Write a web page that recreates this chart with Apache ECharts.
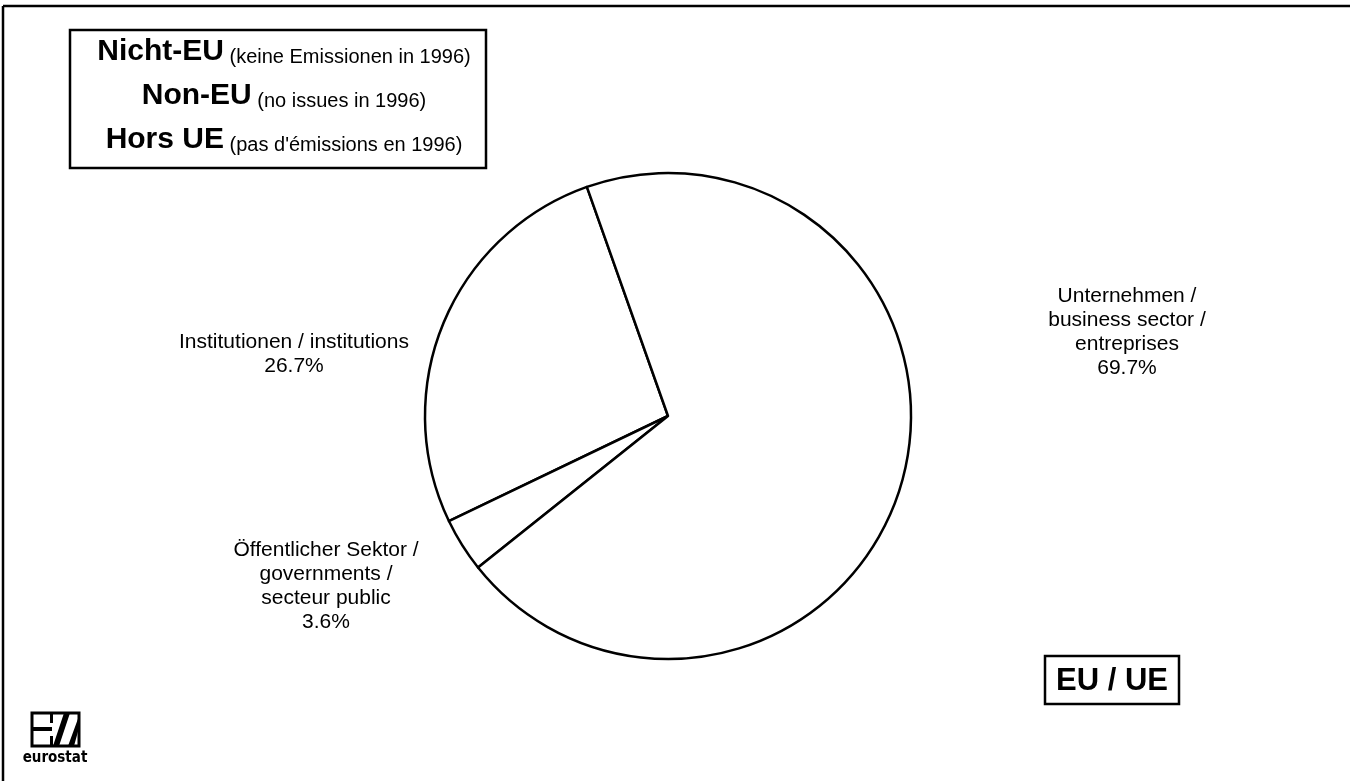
<!DOCTYPE html>
<html>
<head>
<meta charset="utf-8">
<script src="https://cdn.jsdelivr.net/npm/echarts@6/dist/echarts.min.js"></script>
<style>
  html, body { margin: 0; padding: 0; background: #fff; }
  #chart { width: 1350px; height: 781px; }
</style>
</head>
<body>
<div id="chart"></div>
<script>
// shares of issues by type of issuer, EU
const sectorNames = [
  'Institutionen / institutions',
  'Öffentlicher Sektor /\ngovernments /\nsecteur public',
  'Unternehmen /\nbusiness sector /\nentreprises'
];
const sectorShares = [26.7, 3.6, 69.7];

const legendBold = ['Nicht-EU', 'Non-EU', 'Hors UE'];
const legendNote = ['(keine Emissionen in 1996)', '(no issues in 1996)', "(pas d'émissions en 1996)"];
const regionLabel = 'EU / UE';
const logoText = 'eurostat';

// where each slice label sits (x, y centre)
const labelSpots = [[294, 354], [326, 586], [1127, 332]];

const font = 'Arial, "Liberation Sans", sans-serif';
const chart = echarts.init(document.getElementById('chart'));

const legendTexts = legendBold.map((b, i) => ({
  type: 'text',
  x: 284,
  y: 50 + i * 44,
  style: {
    text: '{b|' + b + '} {s|' + legendNote[i] + '}',
    align: 'center',
    verticalAlign: 'middle',
    fill: '#000',
    font: '20px ' + font,
    rich: {
      b: { fontSize: 30, fontWeight: 'bold', fontFamily: font, verticalAlign: 'bottom', lineHeight: 34 },
      s: { fontSize: 20, fontFamily: font, verticalAlign: 'bottom', lineHeight: 30 }
    }
  }
}));

const option = {
  backgroundColor: '#fff',
  animation: false,
  graphic: [
    // page frame
    { type: 'line', shape: { x1: 3, y1: 6, x2: 1350, y2: 6 }, style: { stroke: '#000', lineWidth: 2.5 } },
    { type: 'line', shape: { x1: 3, y1: 6, x2: 3, y2: 781 }, style: { stroke: '#000', lineWidth: 2.5 } },
    // legend note box
    { type: 'rect', shape: { x: 70, y: 30, width: 416, height: 138 }, style: { fill: '#fff', stroke: '#000', lineWidth: 2.5 } },
    ...legendTexts,
    // EU / UE box
    { type: 'rect', shape: { x: 1045, y: 656, width: 134, height: 48 }, style: { fill: '#fff', stroke: '#000', lineWidth: 2.5 } },
    {
      type: 'text', x: 1112, y: 681,
      style: { text: regionLabel, align: 'center', verticalAlign: 'middle', fill: '#000', font: 'bold 31px ' + font }
    },
    // eurostat logo
    { type: 'rect', shape: { x: 32, y: 713, width: 47, height: 33 }, style: { fill: '#fff', stroke: '#000', lineWidth: 3 } },
    { type: 'rect', shape: { x: 32, y: 727, width: 20, height: 4 }, style: { fill: '#000' } },
    { type: 'rect', shape: { x: 50, y: 713, width: 3, height: 10 }, style: { fill: '#000' } },
    { type: 'rect', shape: { x: 50, y: 736, width: 3, height: 10 }, style: { fill: '#000' } },
    { type: 'polygon', shape: { points: [[53, 746], [59, 746], [70, 713], [64, 713]] }, style: { fill: '#000' } },
    { type: 'polygon', shape: { points: [[62, 746], [68, 746], [79, 716], [79, 728], [74, 746]] }, style: { fill: '#000' } },
    {
      type: 'text', x: 55, y: 758,
      style: { text: logoText, align: 'center', verticalAlign: 'middle', fill: '#000', font: 'bold 15px "DejaVu Sans Condensed", sans-serif' }
    }
  ],
  series: [{
    type: 'pie',
    center: [668, 416],
    radius: 243,
    startAngle: 109.5,
    clockwise: false,
    silent: true,
    itemStyle: { color: '#fff', borderColor: '#000', borderWidth: 2.5 },
    emphasis: { disabled: true },
    label: {
      show: true,
      position: 'outside',
      color: '#000',
      fontFamily: font,
      fontSize: 21,
      lineHeight: 24,
      align: 'center',
      formatter: (p) => p.name + '\n' + p.value.toFixed(1) + '%'
    },
    labelLine: { show: false },
    labelLayout: (params) => ({
      x: labelSpots[params.dataIndex][0],
      y: labelSpots[params.dataIndex][1],
      align: 'center',
      verticalAlign: 'middle'
    }),
    data: sectorNames.map((n, i) => ({ name: n, value: sectorShares[i] }))
  }]
};

chart.setOption(option);
</script>
</body>
</html>
